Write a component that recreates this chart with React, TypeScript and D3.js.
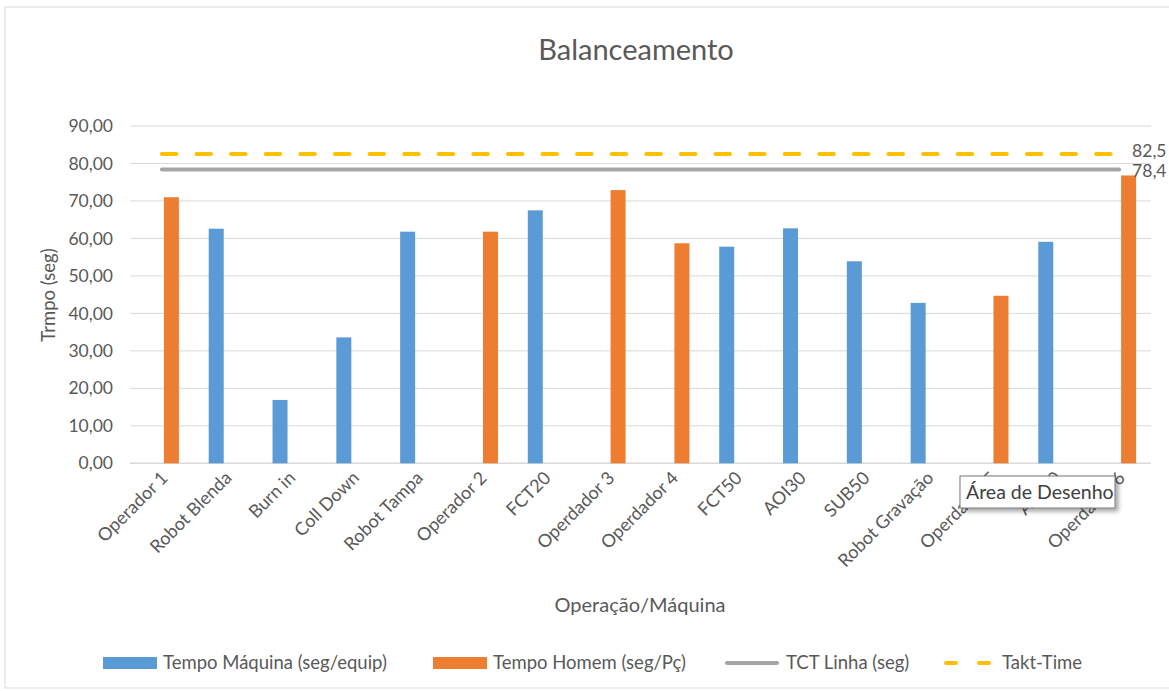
import React from 'react';
import * as d3 from 'd3';

const categorias = [
  'Operador 1', 'Robot Blenda', 'Burn in', 'Coll Down', 'Robot Tampa', 'Operador 2', 'FCT20', 'Operdador 3',
  'Operdador  4', 'FCT50', 'AOI30', 'SUB50', 'Robot Gravação', 'Operdador 5', 'AOI50', 'Operdador 6',
];
const tempoMaquina: (number | null)[] = [null, 62.6, 16.9, 33.6, 61.8, null, 67.5, null, null, 57.8, 62.7, 53.9, 42.8, null, 59.1, null];
const tempoHomem: (number | null)[] = [71.0, null, null, null, null, 61.8, null, 72.9, 58.7, null, null, null, null, 44.7, null, 76.8];
const tctLinha = 78.4;
const taktTime = 82.5;
const yTicks = [0, 10, 20, 30, 40, 50, 60, 70, 80, 90];

const series = ['maquina', 'homem'];
const cores = { maquina: '#5B9BD5', homem: '#ED7D31', tct: '#A5A5A5', takt: '#FFC000' };
const FONT = 'Lato, "Open Sans", sans-serif';
const TXT = '#595959';

const W = 1169;
const H = 691;

const ptBR = d3.formatLocale({ decimal: ',', thousands: '.', grouping: [3], currency: ['R$', ''] });
const fmt2 = ptBR.format('.2f');
const fmt1 = ptBR.format('.1f');

export default function App() {
  const x0 = d3.scaleBand<string>().domain(categorias).range([130, 1151]);
  const bw = x0.bandwidth();
  const x1 = d3.scaleBand<string>().domain(series).range([bw / 2 - 17, bw / 2 + 17]).paddingInner(0.211);
  const y = d3.scaleLinear().domain([0, 90]).range([463.3, 126]);

  const cx = (c: string) => (x0(c) ?? 0) + bw / 2;
  const linha = (v: number) =>
    d3.line<string>().x((c) => cx(c)).y(() => y(v))(categorias) ?? '';

  const ultimo = categorias[categorias.length - 1];

  const legenda = [
    { nome: 'Tempo Máquina (seg/equip)', tipo: 'rect', cor: cores.maquina, x: 103 },
    { nome: 'Tempo Homem (seg/Pç)', tipo: 'rect', cor: cores.homem, x: 433 },
    { nome: 'TCT Linha (seg)', tipo: 'line', cor: cores.tct, x: 725 },
    { nome: 'Takt-Time', tipo: 'dash', cor: cores.takt, x: 942 },
  ];

  return (
    <svg width={W} height={H} style={{ position: 'absolute', left: 0, top: 0, background: '#fff' }} fontFamily={FONT}>
      <defs>
        <filter id="sombra" x="-10%" y="-20%" width="130%" height="160%">
          <feDropShadow dx="3" dy="3" stdDeviation="2" floodColor="#000" floodOpacity="0.35" />
        </filter>
      </defs>
      {/* borda da planilha / gráfico */}
      <rect x={5} y={7} width={W - 4} height={H - 10} fill="#fff" stroke="#D9D9D9" />

      <text x={636} y={60} textAnchor="middle" fontSize={29} fill={TXT}>Balanceamento</text>

      {/* grade */}
      {yTicks.map((t) => (
        <g key={t}>
          <line x1={130} x2={1151} y1={y(t)} y2={y(t)} stroke="#D9D9D9" strokeWidth={t === 0 ? 1.5 : 1} />
          <text x={113} y={y(t)} dy="0.35em" textAnchor="end" fontSize={17.5} fill={TXT}>{fmt2(t)}</text>
        </g>
      ))}

      {/* barras */}
      {categorias.map((c, i) => (
        <g key={c} transform={`translate(${x0(c)},0)`}>
          {tempoMaquina[i] != null && (
            <rect x={x1('maquina')} y={y(tempoMaquina[i] as number)} width={x1.bandwidth()}
              height={y(0) - y(tempoMaquina[i] as number)} fill={cores.maquina} />
          )}
          {tempoHomem[i] != null && (
            <rect x={x1('homem')} y={y(tempoHomem[i] as number)} width={x1.bandwidth()}
              height={y(0) - y(tempoHomem[i] as number)} fill={cores.homem} />
          )}
        </g>
      ))}

      {/* linhas TCT e Takt */}
      <path d={linha(tctLinha)} fill="none" stroke={cores.tct} strokeWidth={4} strokeLinecap="round" />
      <path d={linha(taktTime)} fill="none" stroke={cores.takt} strokeWidth={4} strokeLinecap="round" strokeDasharray="14.5 20.1" />
      <text x={cx(ultimo) + 13} y={y(taktTime) - 2} dy="0.3em" fontSize={17.5} fill={TXT}>{fmt1(taktTime)}</text>
      <text x={cx(ultimo) + 13} y={y(tctLinha) + 2} dy="0.3em" fontSize={17.5} fill={TXT}>{fmt1(tctLinha)}</text>

      {/* rótulos do eixo x */}
      {categorias.map((c) => (
        <text key={c} transform={`translate(${cx(c) + 7},${479}) rotate(-45)`} textAnchor="end" fontSize={18} fill={TXT}>{c}</text>
      ))}

      <text transform="translate(55,295) rotate(-90)" textAnchor="middle" fontSize={18.5} fill={TXT}>Trmpo (seg)</text>
      <text x={640} y={612} textAnchor="middle" fontSize={20} fill={TXT}>Operação/Máquina</text>

      {/* legenda */}
      {legenda.map((l) => (
        <g key={l.nome} transform={`translate(${l.x},663)`}>
          {l.tipo === 'rect' && <rect x={0} y={-6} width={54} height={12} fill={l.cor} />}
          {l.tipo === 'line' && <line x1={2} x2={52} y1={0} y2={0} stroke={l.cor} strokeWidth={4} strokeLinecap="round" />}
          {l.tipo === 'dash' && <line x1={4} x2={52} y1={0} y2={0} stroke={l.cor} strokeWidth={4} strokeLinecap="round" strokeDasharray="10 23" />}
          <text x={l.tipo === 'line' ? 61 : 60} y={0} dy="0.35em" fontSize={18.5} fill={TXT}>{l.nome}</text>
        </g>
      ))}

      {/* dica "Área de Desenho" */}
      <g filter="url(#sombra)">
        <rect x={960} y={476} width={155} height={32} fill="#fff" stroke="#767676" />
      </g>
      <text x={966} y={499} fontSize={19.5} fill="#404040">Área de Desenho</text>
    </svg>
  );
}
